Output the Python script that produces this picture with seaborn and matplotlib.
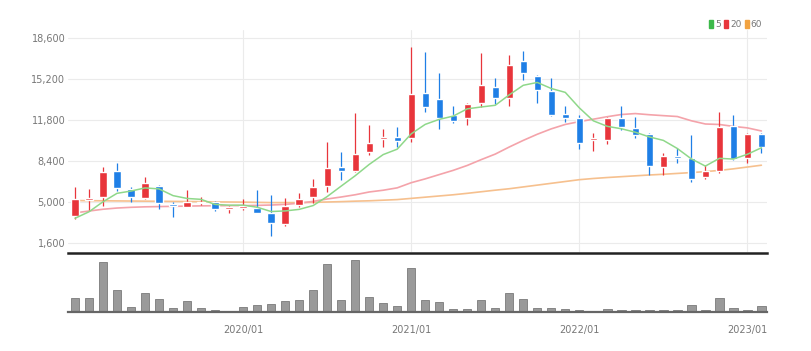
import numpy as np
import pandas as pd
import matplotlib
matplotlib.use("Agg")
import matplotlib.pyplot as plt
import seaborn as sns
from matplotlib.patches import Patch

# monthly candles 2019/01 .. 2023/02
months = pd.date_range("2019-01-01", periods=50, freq="MS")

open_ = [3860, 5150, 5390, 7570, 6050, 5310, 6350, 4860, 4610, 4890,
         4970, 4420, 4480, 4530, 4060, 3180, 4750, 5390, 6350, 7900,
         7570, 9140, 10200, 10390, 10280, 14060, 13540, 12210, 11940, 13180,
         14560, 13600, 16710, 15440, 14230, 12290, 11950, 10140, 10140, 11940,
         11110, 10610, 7940, 8840, 8670, 7050, 7570, 11330, 8620, 10610]
high = [6270, 6080, 7930, 8210, 6270, 7100, 6410, 5020, 5990, 5440,
        5080, 4690, 5220, 5990, 5580, 5310, 5720, 6880, 10000, 9120,
        12350, 11380, 11030, 11240, 17820, 17460, 15720, 12980, 13180, 17380,
        15250, 17190, 17540, 15500, 15250, 12980, 12210, 10690, 12070, 12960,
        12070, 10690, 9090, 9450, 10550, 8070, 12490, 12210, 10700, 10700]
low = [3560, 4340, 4670, 5940, 5000, 5220, 4420, 3730, 4610, 4750,
       4280, 4110, 4340, 4060, 2180, 3010, 4610, 4890, 5850, 6820,
       7460, 8900, 9530, 9580, 10000, 12490, 11050, 11520, 11380, 12900,
       13120, 12960, 15110, 13180, 12130, 11660, 9370, 9250, 9810, 11000,
       10280, 7240, 7240, 8210, 6680, 6880, 7380, 8480, 8210, 9090]
close = [5250, 5300, 7460, 6140, 5390, 6550, 4890, 4670, 4970, 5020,
         4440, 4580, 4690, 4110, 3230, 4690, 5220, 6270, 7840, 7570,
         8980, 9910, 10360, 10080, 13930, 12900, 11990, 11710, 13100, 14700,
         13600, 16320, 15670, 14280, 12190, 11990, 9920, 10280, 11990, 11190,
         10550, 7980, 8840, 8620, 6880, 7570, 11190, 8540, 10610, 9580]

ma5 = [3650, 4190, 5020, 5720, 5908, 6168, 6086, 5528, 5294, 5220,
       4798, 4736, 4740, 4568, 4210, 4260, 4388, 4704, 5450, 6318,
       7176, 8114, 8932, 9380, 10652, 11436, 11852, 12122, 12726, 12880,
       13020, 13886, 14678, 14914, 14412, 14090, 12810, 11732, 11274, 11074,
       10786, 10398, 10110, 9436, 8574, 7978, 8620, 8560, 8958, 9498]
ma20 = [4100, 4250, 4400, 4500, 4560, 4600, 4620, 4640, 4660, 4680,
        4690, 4700, 4700, 4720, 4750, 4800, 4900, 5050, 5250, 5414,
        5600, 5831, 5976, 6173, 6600, 6918, 7273, 7625, 8031, 8515,
        8973, 9560, 10109, 10618, 11066, 11431, 11666, 11866, 12074, 12255,
        12333, 12237, 12161, 12088, 11735, 11469, 11429, 11270, 11146, 10890]
ma60 = [5120, 5110, 5100, 5090, 5080, 5070, 5060, 5050, 5040, 5030,
        5010, 5000, 4990, 4970, 4950, 4950, 4950, 4970, 5000, 5030,
        5070, 5100, 5150, 5200, 5300, 5400, 5500, 5600, 5720, 5850,
        5980, 6100, 6250, 6400, 6550, 6700, 6850, 6950, 7030, 7100,
        7170, 7240, 7300, 7370, 7440, 7520, 7620, 7750, 7900, 8050]

volume = [42, 42, 150, 65, 14, 57, 40, 12, 32, 12,
          7, 4, 15, 20, 23, 32, 37, 65, 145, 35,
          157, 44, 27, 17, 132, 37, 30, 9, 9, 35,
          12, 57, 40, 13, 13, 8, 6, 4, 8, 7,
          7, 5, 7, 5, 22, 7, 42, 12, 7, 17]

y_ticks = [1600, 5000, 8400, 11800, 15200, 18600]
tick_labels = ["2020/01", "2021/01", "2022/01", "2023/01"]
ma_labels = ["5", "20", "60"]

df = pd.DataFrame({"month": months, "open": open_, "high": high, "low": low,
                   "close": close, "ma5": ma5, "ma20": ma20, "ma60": ma60,
                   "volume": volume})
df["pos"] = np.arange(len(df))
tick_pos = [df.index[df["month"] == pd.Timestamp(t.replace("/", "-") + "-01")][0] for t in tick_labels]

sns.set_style("white")
plt.rcParams["font.family"] = ["Liberation Sans Narrow", "DejaVu Sans"]

UP = "#e8353b"
DOWN = "#1f7fe6"
GRID = "#ebebeb"
TXT = "#777777"

fig = plt.figure(figsize=(8.12, 3.51), dpi=100)
ax = fig.add_axes([68 / 812, 1 - 252 / 351, 699 / 812, 222 / 351])
axv = fig.add_axes([68 / 812, 1 - 312 / 351, 699 / 812, 59 / 351])

# candles
for _, r in df.iterrows():
    c = UP if r["close"] >= r["open"] else DOWN
    ax.vlines(r["pos"], r["low"], r["high"], color=c, lw=0.9, zorder=3)
    lo = min(r["open"], r["close"])
    h = max(abs(r["close"] - r["open"]), 150)
    ax.bar(r["pos"], h, bottom=lo, width=0.52, color=c, zorder=4)

sns.lineplot(data=df, x="pos", y="ma60", ax=ax, color="#f6c08e", lw=1.2, zorder=2)
sns.lineplot(data=df, x="pos", y="ma20", ax=ax, color="#f4a3aa", lw=1.2, zorder=2)
sns.lineplot(data=df, x="pos", y="ma5", ax=ax, color="#8fd88a", lw=1.1, zorder=5)

ax.set_xlim(-0.5, 49.4)
ax.set_ylim(854, 19263)
ax.set_yticks(y_ticks)
ax.set_yticklabels([f"{v:,}" for v in y_ticks], color=TXT, fontsize=7)
ax.set_xticks(tick_pos)
ax.set_xticklabels([])
ax.tick_params(axis="both", length=0, pad=2)
ax.grid(True, color=GRID, lw=0.8)
ax.set_axisbelow(True)
ax.set_xlabel("")
ax.set_ylabel("")
for s in ax.spines.values():
    s.set_visible(False)

# volume
sns.barplot(data=df, x="pos", y="volume", ax=axv, color="#9a9a9a",
            width=0.6, saturation=1, edgecolor="#7a7a7a", linewidth=0.6)
axv.set_xlim(-0.5, 49.4)
axv.set_ylim(0, 178)
axv.set_yticks([])
axv.set_xticks(tick_pos)
axv.set_xticklabels(tick_labels, color=TXT, fontsize=7)
axv.tick_params(axis="x", length=3, width=1, color="#555555", pad=6)
axv.set_xlabel("")
axv.set_ylabel("")
for s in ["left", "right"]:
    axv.spines[s].set_visible(False)
axv.spines["top"].set_color("#222222")
axv.spines["top"].set_linewidth(1.8)
axv.spines["bottom"].set_color("#666666")
axv.spines["bottom"].set_linewidth(1.6)

handles = [Patch(color="#3cb94a"), Patch(color="#e8353b"), Patch(color="#f2a341")]
fig.legend(handles, ma_labels, loc="upper right", bbox_to_anchor=(770 / 812, 1 - 12 / 351),
           ncol=3, frameon=False, fontsize=6.5, handlelength=0.45, handleheight=0.9,
           handletextpad=0.2, columnspacing=0.35, labelcolor=TXT)

fig.savefig("out.png", dpi=100)
